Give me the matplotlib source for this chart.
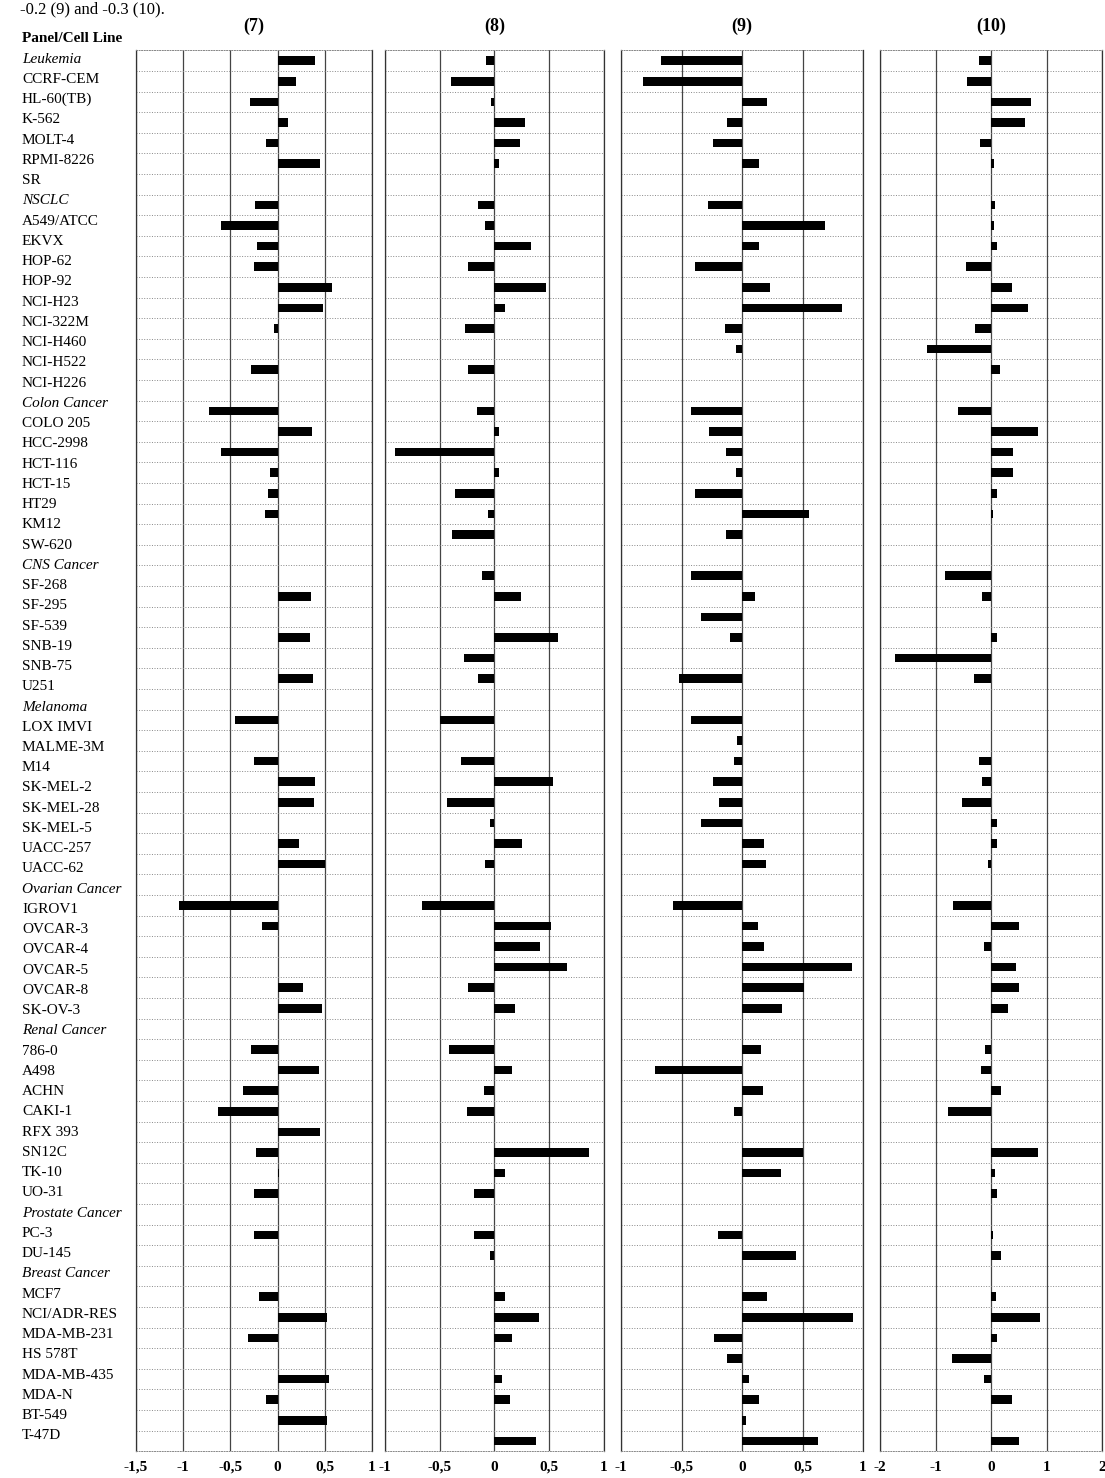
import numpy as np
import matplotlib.pyplot as plt
from matplotlib.ticker import FuncFormatter

plt.rcParams['font.family'] = ['Liberation Serif', 'DejaVu Serif']

cell_lines = [
    "Leukemia", "CCRF-CEM", "HL-60(TB)", "K-562", "MOLT-4", "RPMI-8226", "SR",
    "NSCLC", "A549/ATCC", "EKVX", "HOP-62", "HOP-92", "NCI-H23", "NCI-322M",
    "NCI-H460", "NCI-H522", "NCI-H226",
    "Colon Cancer", "COLO 205", "HCC-2998", "HCT-116", "HCT-15", "HT29", "KM12", "SW-620",
    "CNS Cancer", "SF-268", "SF-295", "SF-539", "SNB-19", "SNB-75", "U251",
    "Melanoma", "LOX IMVI", "MALME-3M", "M14", "SK-MEL-2", "SK-MEL-28", "SK-MEL-5",
    "UACC-257", "UACC-62",
    "Ovarian Cancer", "IGROV1", "OVCAR-3", "OVCAR-4", "OVCAR-5", "OVCAR-8", "SK-OV-3",
    "Renal Cancer", "786-0", "A498", "ACHN", "CAKI-1", "RFX 393", "SN12C", "TK-10", "UO-31",
    "Prostate Cancer", "PC-3", "DU-145",
    "Breast Cancer", "MCF7", "NCI/ADR-RES", "MDA-MB-231", "HS 578T", "MDA-MB-435",
    "MDA-N", "BT-549", "T-47D",
]
panels = ["Leukemia", "NSCLC", "Colon Cancer", "CNS Cancer", "Melanoma",
          "Ovarian Cancer", "Renal Cancer", "Prostate Cancer", "Breast Cancer"]

N = None
# bar rows as printed (68 rows, top to bottom); None = no bar
vals_7 = [0.40, 0.20, -0.29, 0.11, -0.12, 0.45, N, -0.24, -0.60, -0.22,
          -0.25, 0.58, 0.48, -0.04, N, -0.28, N, -0.73, 0.36, -0.60,
          -0.08, -0.10, -0.13, N, N, N, 0.35, N, 0.34, N,
          0.38, N, -0.45, N, -0.25, 0.40, 0.39, N, 0.23, 0.50,
          N, -1.04, -0.16, N, N, 0.27, 0.47, N, -0.28, 0.44,
          -0.37, -0.63, 0.45, -0.23, 0.02, -0.25, N, -0.25, N, N,
          -0.20, 0.52, -0.31, N, 0.54, -0.12, 0.52, N]
vals_8 = [-0.08, -0.40, -0.03, 0.28, 0.23, 0.04, N, -0.15, -0.09, 0.33,
          -0.24, 0.47, 0.10, -0.27, N, -0.24, N, -0.16, 0.04, -0.91,
          0.04, -0.36, -0.06, -0.39, N, -0.11, 0.24, N, 0.58, -0.28,
          -0.15, N, -0.50, N, -0.31, 0.53, -0.43, -0.04, 0.25, -0.09,
          N, -0.66, 0.52, 0.42, 0.66, -0.24, 0.19, N, -0.42, 0.16,
          -0.10, -0.25, N, 0.86, 0.10, -0.19, N, -0.19, -0.04, N,
          0.10, 0.41, 0.16, N, 0.07, 0.14, N, 0.38]
vals_9 = [-0.67, -0.82, 0.21, -0.12, -0.24, 0.14, N, -0.28, 0.69, 0.14,
          -0.39, 0.23, 0.83, -0.14, -0.05, N, N, -0.42, -0.27, -0.13,
          -0.05, -0.39, 0.55, -0.13, N, -0.42, 0.11, -0.34, -0.10, N,
          -0.52, N, -0.42, -0.04, -0.07, -0.24, -0.19, -0.34, 0.18, 0.20,
          N, -0.57, 0.13, 0.18, 0.91, 0.51, 0.33, N, 0.16, -0.72,
          0.17, -0.07, N, 0.50, 0.32, N, N, -0.20, 0.45, N,
          0.21, 0.92, -0.23, -0.12, 0.06, 0.14, 0.03, 0.63]
vals_10 = [-0.22, -0.43, 0.72, 0.62, -0.20, 0.06, N, 0.08, 0.06, 0.10,
           -0.45, 0.37, 0.66, -0.28, -1.15, 0.17, N, -0.60, 0.85, 0.40,
           0.40, 0.10, 0.04, N, N, -0.82, -0.17, N, 0.10, -1.73,
           -0.30, N, N, N, -0.22, -0.17, -0.52, 0.10, 0.10, -0.06,
           N, -0.68, 0.50, -0.13, 0.45, 0.50, 0.30, N, -0.10, -0.18,
           0.18, -0.78, N, 0.85, 0.08, 0.10, N, 0.04, 0.18, N,
           0.09, 0.88, 0.10, -0.70, -0.13, 0.38, N, 0.50]

titles = ["(7)", "(8)", "(9)", "(10)"]
all_vals = [vals_7, vals_8, vals_9, vals_10]
xlims = [(-1.5, 1), (-1, 1), (-1, 1), (-2, 2)]
xsteps = [0.5, 0.5, 0.5, 1]

W, H = 1105, 1478
fig = plt.figure(figsize=(W / 100, H / 100), dpi=100)


def box(x0, x1, y0, y1):
    return [x0 / W, 1 - y1 / H, (x1 - x0) / W, (y1 - y0) / H]


# row label column
lab = fig.add_axes(box(22, 130, 59 - 10.1, 1436 + 10.1))
lab.set_xlim(0, 1)
lab.set_ylim(len(cell_lines) - 0.5, -0.5)
lab.axis('off')
lab.text(0, -1, "Panel/Cell Line", fontsize=11, fontweight='bold', va='center', clip_on=False)
for i, name in enumerate(cell_lines):
    lab.text(0, i, name, fontsize=11, va='center',
             style='italic' if name in panels else 'normal')

fig.text(20 / W, 1 - 1 / H, "-0.2 (9) and -0.3 (10).", fontsize=12, va='top')

nrows = len(vals_7)
xpix = [(136, 372), (385, 604), (621, 863), (880, 1102)]
fmt = FuncFormatter(lambda v, p: f"{v:g}".replace('.', ','))

for (x0, x1), vals, title, lim, step in zip(xpix, all_vals, titles, xlims, xsteps):
    ax = fig.add_axes(box(x0, x1, 50.4, 1451.2))
    rows = [i for i, v in enumerate(vals) if v is not None]
    ax.barh(rows, [vals[i] for i in rows], height=0.42, color='black', zorder=3)
    ax.set_xlim(*lim)
    ax.set_ylim(nrows - 0.5, -0.5)
    ax.set_xticks(np.arange(lim[0], lim[1] + 0.01, step))
    ax.xaxis.set_major_formatter(fmt)
    ax.set_yticks([])
    ax.set_yticks(np.arange(-0.5, nrows, 1), minor=True)
    ax.tick_params(axis='both', which='both', length=0)
    ax.tick_params(axis='x', labelsize=11, pad=7)
    for t in ax.get_xticklabels():
        t.set_fontweight('bold')
    ax.grid(axis='x', color='#444444', lw=0.9, ls='-')
    ax.grid(axis='y', which='minor', color='#888888', lw=0.7, ls=':')
    ax.set_axisbelow(True)
    for s in ['left', 'right']:
        ax.spines[s].set_color('#333333')
        ax.spines[s].set_linewidth(0.9)
    for s in ['top', 'bottom']:
        ax.spines[s].set_color('#888888')
        ax.spines[s].set_linewidth(0.7)
        ax.spines[s].set_linestyle(':')
    ax.set_title(title, fontsize=13, fontweight='bold', pad=14)

fig.savefig("out.png", dpi=100)
